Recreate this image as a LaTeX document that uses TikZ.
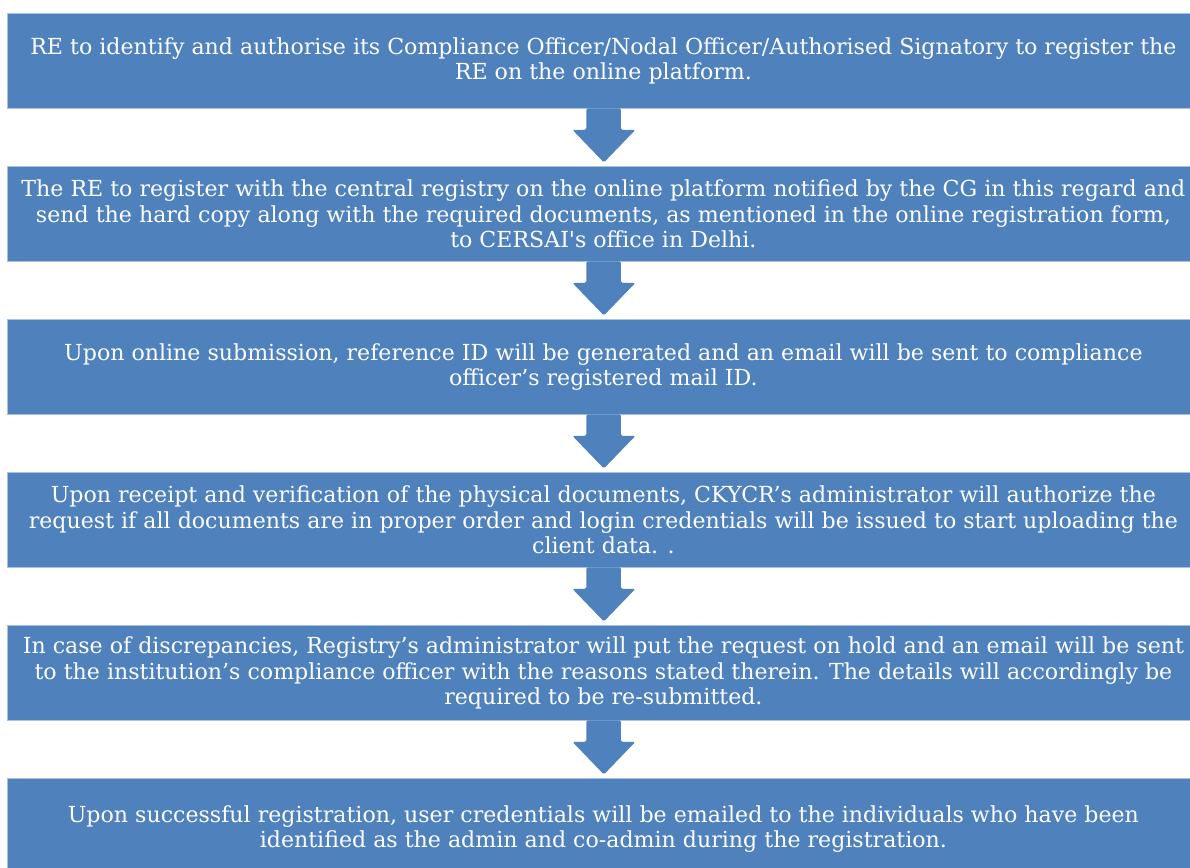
\documentclass[tikz,border=0pt]{standalone}
\usepackage{fontspec}
\setmainfont{DejaVu Serif}
\usetikzlibrary{calc}
\definecolor{stepblue}{HTML}{4F81BD}
\definecolor{edgeblue}{HTML}{A9C0DE}
\begin{document}
\begin{tikzpicture}[x=1pt,y=-1pt,
  stepbox/.style={fill=stepblue, draw=edgeblue, line width=0.8pt, minimum width=1192pt,
    minimum height=95pt, inner sep=0pt, anchor=north west, align=center, text=white,
    font=\fontsize{22.1}{25.5}\selectfont},
  downarrow/.style={fill=stepblue, draw=none, rounded corners=1.5pt}]
\useasboundingbox (0,0) rectangle (1190,867);
\clip (0,0) rectangle (1190,867);
\fill[white] (0,0) rectangle (1190,867);

\node[stepbox] (b1) at (7,13) {RE to identify and authorise its Compliance Officer/Nodal Officer/Authorised Signatory to register the\\RE on the online platform.};
\node[stepbox] (b2) at (7,166) {The RE to register with the central registry on the online platform notified by the CG in this regard and\\send the hard copy along with the required documents, as mentioned in the online registration form,\\to CERSAI\textquotesingle s office in Delhi.};
\node[stepbox] (b3) at (7,319) {Upon online submission, reference ID will be generated and an email will be sent to compliance\\officer’s registered mail ID.};
\node[stepbox] (b4) at (7,472) {Upon receipt and verification of the physical documents, CKYCR’s administrator will authorize the\\request if all documents are in proper order and login credentials will be issued to start uploading the\\client data. .};
\node[stepbox] (b5) at (7,625) {In case of discrepancies, Registry’s administrator will put the request on hold and an email will be sent\\to the institution’s compliance officer with the reasons stated therein. The details will accordingly be\\required to be re-submitted.};
\node[stepbox, minimum height=101pt] (b6) at (7,778) {Upon successful registration, user credentials will be emailed to the individuals who have been\\identified as the admin and co-admin during the registration.};

% block arrows hanging below each box
\foreach \a/\b in {b1/b2,b2/b3,b3/b4,b4/b5,b5/b6}{
  \path[downarrow] ($(\a.south)+(-17,-0.5)$) -- ($(\a.south)+(17.5,-0.5)$)
    -- ($(\a.south)+(17.5,21)$) -- ($(\a.south)+(32,21)$)
    -- ($(\b.north)+(0.5,-3.5)$) -- ($(\a.south)+(-31,21)$)
    -- ($(\a.south)+(-17,21)$) -- cycle;
}
\end{tikzpicture}
\end{document}
